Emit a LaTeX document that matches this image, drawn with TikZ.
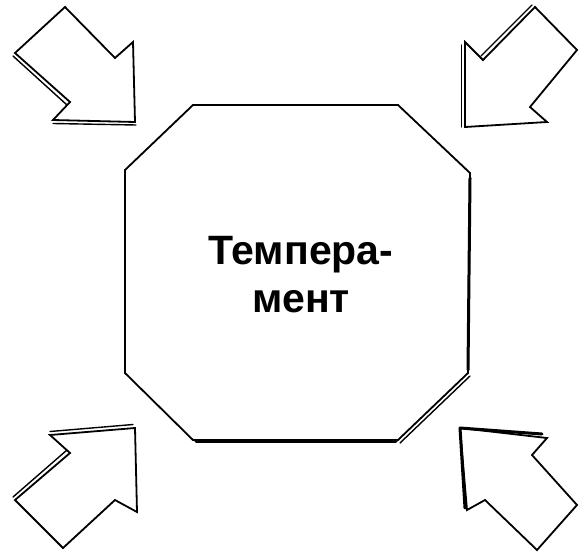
\documentclass[tikz,border=0pt]{standalone}
\usepackage{fontspec}
\setmainfont{Liberation Sans}
\begin{document}
\begin{tikzpicture}[x=1pt,y=-1pt,
  shape line/.style={draw=black,line width=1.8pt,line join=miter,fill=white},
  shadow line/.style={draw=black,line width=1.4pt,line cap=round},
  heavy line/.style={draw=black,line width=3pt,line cap=round},
  label text/.style={font=\fontsize{41}{48}\selectfont\bfseries,align=center,inner sep=0pt}]
\useasboundingbox (0,0) rectangle (580,554);
% octagon
\path[shape line] (193,105) -- (398,105) -- (470,173) -- (468,373) -- (398,440) -- (193,440) -- (125,373) -- (125,170) -- cycle;
\draw[heavy line] (470,178) -- (468,370);
\draw[shadow line] (470,376) -- (400,443);
\draw[heavy line] (196,441) -- (396,441);
\node[label text] (t) at (301,275) {Темпера-\\мент};
% top-left arrow
\path[shape line] (65,7) -- (115,58) -- (133,42) -- (135,122) -- (53,120) -- (70,102) -- (15,53) -- cycle;
\draw[shadow line] (13,56) -- (67,105);
\draw[shadow line] (53,123.5) -- (136,125);
% top-right arrow
\path[shape line] (535,7) -- (577,50) -- (530,107) -- (547,122) -- (465,127) -- (465,42) -- (483,60) -- cycle;
\draw[shadow line] (481,56) -- (532,5);
\draw[shadow line] (461.5,45) -- (461.5,127);
% bottom-left arrow
\path[shape line] (135,428) -- (137,512) -- (115,500) -- (63,548) -- (15,500) -- (70,453) -- (50,435) -- cycle;
\draw[shadow line] (13,497) -- (67,450);
\draw[shadow line] (50,431.5) -- (133,424.5);
% bottom-right arrow
\path[shape line] (460,428) -- (547,438) -- (532,455) -- (577,505) -- (537,550) -- (485,500) -- (467,510) -- cycle;
\draw[heavy line] (460,428) -- (542,434);
\draw[heavy line] (460,428) -- (465,508);
\end{tikzpicture}
\end{document}
